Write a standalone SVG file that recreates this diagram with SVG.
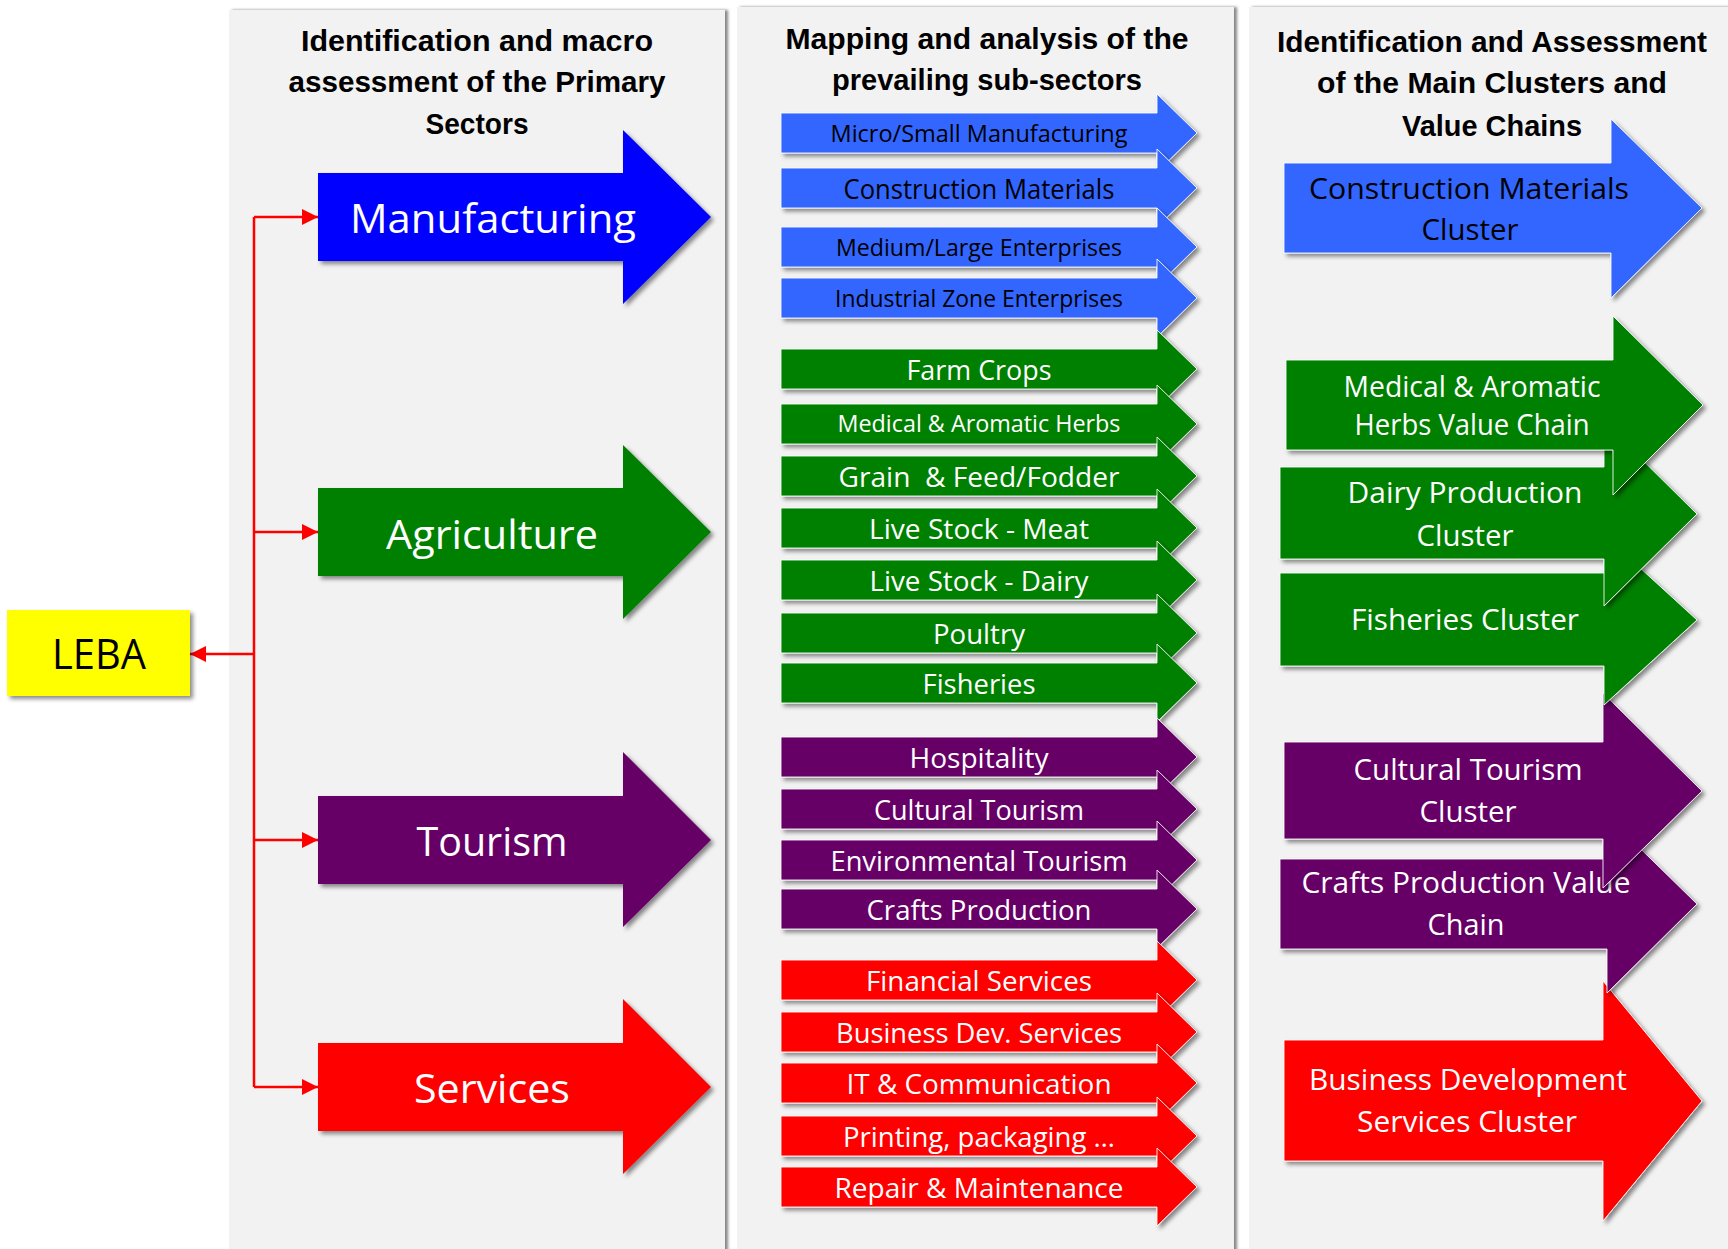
<svg xmlns="http://www.w3.org/2000/svg" width="1728" height="1249" viewBox="0 0 1728 1249">
<style>
.panel{fill:#f2f2f2}
.ttl{font-family:"Liberation Sans",Arial,sans-serif;font-weight:bold;font-size:29px;fill:#000;text-anchor:middle}
.lbl{font-family:"Open Sans","Liberation Sans",sans-serif;text-anchor:middle}
.w{fill:#ffffff}
.k{fill:#000000}
.s27{font-size:27px}
.s23{font-size:23px}
.s30{font-size:30px}
.s41{font-size:41px}
.sub{stroke:#ffffff;stroke-width:1;stroke-opacity:0.85}
.blue1{fill:#0000ff}
.blue2{fill:#3366ff}
.green{fill:#008000}
.purple{fill:#660066}
.red{fill:#ff0000}
.conn{stroke:#ff0000;stroke-width:2.5;fill:none}
</style>
<defs>
<filter id="sh" x="-10%" y="-10%" width="125%" height="130%">
<feDropShadow dx="3" dy="3" stdDeviation="2" flood-color="#000" flood-opacity="0.45"/>
</filter>
<filter id="psh" x="-5%" y="-5%" width="110%" height="110%">
<feDropShadow dx="3" dy="0" stdDeviation="1.5" flood-color="#555" flood-opacity="0.7"/>
</filter>
<marker id="ah" viewBox="0 0 16 16" refX="16" refY="8" markerWidth="16" markerHeight="16" markerUnits="userSpaceOnUse" orient="auto">
<path d="M0,0 L16,8 L0,16 Z" fill="#ff0000"/>
</marker>
</defs>

<rect width="1728" height="1249" fill="#ffffff"/>

<g id="panels">
<rect class="panel" x="229" y="10" width="496" height="1245" filter="url(#psh)"/>
<rect class="panel" x="737" y="7" width="497" height="1248" filter="url(#psh)"/>
<rect class="panel" x="1249" y="7" width="485" height="1248" filter="url(#psh)"/>
</g>

<g id="titles">
<text class="ttl" x="477" y="51" textLength="352" lengthAdjust="spacingAndGlyphs">Identification and macro</text>
<text class="ttl" x="477" y="92" textLength="377" lengthAdjust="spacingAndGlyphs">assessment of the Primary</text>
<text class="ttl" x="477" y="134" textLength="103" lengthAdjust="spacingAndGlyphs">Sectors</text>
<text class="ttl" x="987" y="49" textLength="403" lengthAdjust="spacingAndGlyphs">Mapping and analysis of the</text>
<text class="ttl" x="987" y="90" textLength="310" lengthAdjust="spacingAndGlyphs">prevailing sub-sectors</text>
<text class="ttl" x="1492" y="52" textLength="430" lengthAdjust="spacingAndGlyphs">Identification and Assessment</text>
<text class="ttl" x="1492" y="93" textLength="350" lengthAdjust="spacingAndGlyphs">of the Main Clusters and</text>
<text class="ttl" x="1492" y="136" textLength="180" lengthAdjust="spacingAndGlyphs">Value Chains</text>
</g>

<g id="connectors">
<path class="conn" d="M254,217 V1087"/>
<path class="conn" d="M254,217 H318" marker-end="url(#ah)"/>
<path class="conn" d="M254,532 H318" marker-end="url(#ah)"/>
<path class="conn" d="M254,840 H318" marker-end="url(#ah)"/>
<path class="conn" d="M254,1087 H318" marker-end="url(#ah)"/>
<path class="conn" d="M254,654 H190" marker-end="url(#ah)"/>
</g>

<g id="leba">
<rect x="7" y="610" width="183" height="86" fill="#ffff00" filter="url(#sh)"/>
<text class="lbl k" x="99" y="669" font-size="42" textLength="94" lengthAdjust="spacingAndGlyphs">LEBA</text>
</g>

<g id="manufacturing">
<path class="blue1" d="M318,173 H623 V130 L711,217 L623,304 V261 H318 Z" filter="url(#sh)"/>
<text class="lbl w s41" x="493" y="233" textLength="286" lengthAdjust="spacingAndGlyphs">Manufacturing</text>
</g>
<g id="agriculture">
<path class="green" d="M318,488 H623 V445 L711,532 L623,619 V576 H318 Z" filter="url(#sh)"/>
<text class="lbl w s41" x="492" y="549" textLength="212" lengthAdjust="spacingAndGlyphs">Agriculture</text>
</g>
<g id="tourism">
<path class="purple" d="M318,796 H623 V752 L711,840 L623,927 V884 H318 Z" filter="url(#sh)"/>
<text class="lbl w s41" x="492" y="856" textLength="151" lengthAdjust="spacingAndGlyphs">Tourism</text>
</g>
<g id="services">
<path class="red" d="M318,1043 H623 V999 L711,1087 L623,1174 V1131 H318 Z" filter="url(#sh)"/>
<text class="lbl w s41" x="492" y="1103" textLength="156" lengthAdjust="spacingAndGlyphs">Services</text>
</g>

<g id="sub-micro-small-manufacturing">
<path class="blue2 sub" d="M781,113 H1157 V94 L1197,133 L1157,172 V153 H781 Z" filter="url(#sh)"/>
<text class="lbl k s23" x="979" y="142" textLength="297" lengthAdjust="spacingAndGlyphs">Micro/Small Manufacturing</text>
</g>
<g id="sub-construction-materials">
<path class="blue2 sub" d="M781,168 H1157 V149 L1197,188 L1157,227 V208 H781 Z" filter="url(#sh)"/>
<text class="lbl k s27" x="979" y="199" textLength="271" lengthAdjust="spacingAndGlyphs">Construction Materials</text>
</g>
<g id="sub-medium-large-enterprises">
<path class="blue2 sub" d="M781,227 H1157 V208 L1197,247 L1157,286 V267 H781 Z" filter="url(#sh)"/>
<text class="lbl k s23" x="979" y="256" textLength="286" lengthAdjust="spacingAndGlyphs">Medium/Large Enterprises</text>
</g>
<g id="sub-industrial-zone-enterprises">
<path class="blue2 sub" d="M781,278 H1157 V259 L1197,298 L1157,337 V318 H781 Z" filter="url(#sh)"/>
<text class="lbl k s23" x="979" y="307" textLength="288" lengthAdjust="spacingAndGlyphs">Industrial Zone Enterprises</text>
</g>
<g id="sub-farm-crops">
<path class="green sub" d="M781,349 H1157 V330 L1197,369 L1157,408 V389 H781 Z" filter="url(#sh)"/>
<text class="lbl w s27" x="979" y="380" textLength="145" lengthAdjust="spacingAndGlyphs">Farm Crops</text>
</g>
<g id="sub-medical-aromatic-herbs">
<path class="green sub" d="M781,404 H1157 V385 L1197,424 L1157,463 V444 H781 Z" filter="url(#sh)"/>
<text class="lbl w s23" x="979" y="432" textLength="283" lengthAdjust="spacingAndGlyphs">Medical &amp; Aromatic Herbs</text>
</g>
<g id="sub-grain-feed-fodder">
<path class="green sub" d="M781,456 H1157 V437 L1197,476 L1157,515 V496 H781 Z" filter="url(#sh)"/>
<text class="lbl w s27" x="979" y="487" textLength="281" lengthAdjust="spacingAndGlyphs" xml:space="preserve">Grain  &amp; Feed/Fodder</text>
</g>
<g id="sub-live-stock-meat">
<path class="green sub" d="M781,508 H1157 V489 L1197,528 L1157,567 V548 H781 Z" filter="url(#sh)"/>
<text class="lbl w s27" x="979" y="539" textLength="220" lengthAdjust="spacingAndGlyphs">Live Stock - Meat</text>
</g>
<g id="sub-live-stock-dairy">
<path class="green sub" d="M781,560 H1157 V541 L1197,580 L1157,619 V600 H781 Z" filter="url(#sh)"/>
<text class="lbl w s27" x="979" y="591" textLength="219" lengthAdjust="spacingAndGlyphs">Live Stock - Dairy</text>
</g>
<g id="sub-poultry">
<path class="green sub" d="M781,613 H1157 V594 L1197,633 L1157,672 V653 H781 Z" filter="url(#sh)"/>
<text class="lbl w s27" x="979" y="644" textLength="92" lengthAdjust="spacingAndGlyphs">Poultry</text>
</g>
<g id="sub-fisheries">
<path class="green sub" d="M781,663 H1157 V644 L1197,683 L1157,722 V703 H781 Z" filter="url(#sh)"/>
<text class="lbl w s27" x="979" y="694" textLength="113" lengthAdjust="spacingAndGlyphs">Fisheries</text>
</g>
<g id="sub-hospitality">
<path class="purple sub" d="M781,737 H1157 V718 L1197,757 L1157,796 V777 H781 Z" filter="url(#sh)"/>
<text class="lbl w s27" x="979" y="768" textLength="139" lengthAdjust="spacingAndGlyphs">Hospitality</text>
</g>
<g id="sub-cultural-tourism">
<path class="purple sub" d="M781,789 H1157 V770 L1197,809 L1157,848 V829 H781 Z" filter="url(#sh)"/>
<text class="lbl w s27" x="979" y="820" textLength="210" lengthAdjust="spacingAndGlyphs">Cultural Tourism</text>
</g>
<g id="sub-environmental-tourism">
<path class="purple sub" d="M781,840 H1157 V821 L1197,860 L1157,899 V880 H781 Z" filter="url(#sh)"/>
<text class="lbl w s27" x="979" y="871" textLength="297" lengthAdjust="spacingAndGlyphs">Environmental Tourism</text>
</g>
<g id="sub-crafts-production">
<path class="purple sub" d="M781,889 H1157 V870 L1197,909 L1157,948 V929 H781 Z" filter="url(#sh)"/>
<text class="lbl w s27" x="979" y="920" textLength="225" lengthAdjust="spacingAndGlyphs">Crafts Production</text>
</g>
<g id="sub-financial-services">
<path class="red sub" d="M781,960 H1157 V941 L1197,980 L1157,1019 V1000 H781 Z" filter="url(#sh)"/>
<text class="lbl w s27" x="979" y="991" textLength="226" lengthAdjust="spacingAndGlyphs">Financial Services</text>
</g>
<g id="sub-business-dev-services">
<path class="red sub" d="M781,1012 H1157 V993 L1197,1032 L1157,1071 V1052 H781 Z" filter="url(#sh)"/>
<text class="lbl w s27" x="979" y="1043" textLength="286" lengthAdjust="spacingAndGlyphs">Business Dev. Services</text>
</g>
<g id="sub-it-communication">
<path class="red sub" d="M781,1063 H1157 V1044 L1197,1083 L1157,1122 V1103 H781 Z" filter="url(#sh)"/>
<text class="lbl w s27" x="979" y="1094" textLength="265" lengthAdjust="spacingAndGlyphs">IT &amp; Communication</text>
</g>
<g id="sub-printing-packaging">
<path class="red sub" d="M781,1116 H1157 V1097 L1197,1136 L1157,1175 V1156 H781 Z" filter="url(#sh)"/>
<text class="lbl w s27" x="979" y="1147" textLength="272" lengthAdjust="spacingAndGlyphs">Printing, packaging …</text>
</g>
<g id="sub-repair-maintenance">
<path class="red sub" d="M781,1167 H1157 V1148 L1197,1187 L1157,1226 V1207 H781 Z" filter="url(#sh)"/>
<text class="lbl w s27" x="979" y="1198" textLength="289" lengthAdjust="spacingAndGlyphs">Repair &amp; Maintenance</text>
</g>

<g id="cluster-business-development-services">
<path class="red sub" d="M1284,1040 H1603 V981 L1702,1101 L1603,1221 V1161 H1284 Z" filter="url(#sh)"/>
<text class="lbl w s30" x="1468" y="1090" textLength="318" lengthAdjust="spacingAndGlyphs">Business Development</text>
<text class="lbl w s30" x="1467" y="1132" textLength="220" lengthAdjust="spacingAndGlyphs">Services Cluster</text>
</g>
<g id="cluster-crafts-production">
<path class="purple sub" d="M1280,859 H1607 V816 L1697,904 L1607,993 V949 H1280 Z" filter="url(#sh)"/>
<text class="lbl w s30" x="1466" y="893" textLength="329" lengthAdjust="spacingAndGlyphs">Crafts Production Value</text>
<text class="lbl w s30" x="1466" y="935" textLength="77" lengthAdjust="spacingAndGlyphs">Chain</text>
</g>
<g id="cluster-cultural-tourism">
<path class="purple sub" d="M1284,742 H1603 V693 L1702,791 L1603,888 V839 H1284 Z" filter="url(#sh)"/>
<text class="lbl w s30" x="1468" y="780" textLength="229" lengthAdjust="spacingAndGlyphs">Cultural Tourism</text>
<text class="lbl w s30" x="1468" y="822" textLength="97" lengthAdjust="spacingAndGlyphs">Cluster</text>
</g>
<g id="cluster-fisheries">
<path class="green sub" d="M1280,573 H1604 V535 L1697,620 L1604,705 V666 H1280 Z" filter="url(#sh)"/>
<text class="lbl w s30" x="1465" y="630" textLength="228" lengthAdjust="spacingAndGlyphs">Fisheries Cluster</text>
</g>
<g id="cluster-dairy-production">
<path class="green sub" d="M1280,467 H1604 V422 L1697,514 L1604,606 V559 H1280 Z" filter="url(#sh)"/>
<text class="lbl w s30" x="1465" y="503" textLength="235" lengthAdjust="spacingAndGlyphs">Dairy Production</text>
<text class="lbl w s30" x="1465" y="546" textLength="97" lengthAdjust="spacingAndGlyphs">Cluster</text>
</g>
<g id="cluster-medical-aromatic-herbs">
<path class="green sub" d="M1286,360 H1613 V316 L1703,405 L1613,495 V450 H1286 Z" filter="url(#sh)"/>
<text class="lbl w s30" x="1472" y="397" textLength="257" lengthAdjust="spacingAndGlyphs">Medical &amp; Aromatic</text>
<text class="lbl w s30" x="1472" y="435" textLength="235" lengthAdjust="spacingAndGlyphs">Herbs Value Chain</text>
</g>
<g id="cluster-construction-materials">
<path class="blue2 sub" d="M1284,163 H1611 V119 L1702,208 L1611,298 V253 H1284 Z" filter="url(#sh)"/>
<text class="lbl k s30" x="1469" y="199" textLength="320" lengthAdjust="spacingAndGlyphs">Construction Materials</text>
<text class="lbl k s30" x="1470" y="240" textLength="97" lengthAdjust="spacingAndGlyphs">Cluster</text>
</g>
</svg>
